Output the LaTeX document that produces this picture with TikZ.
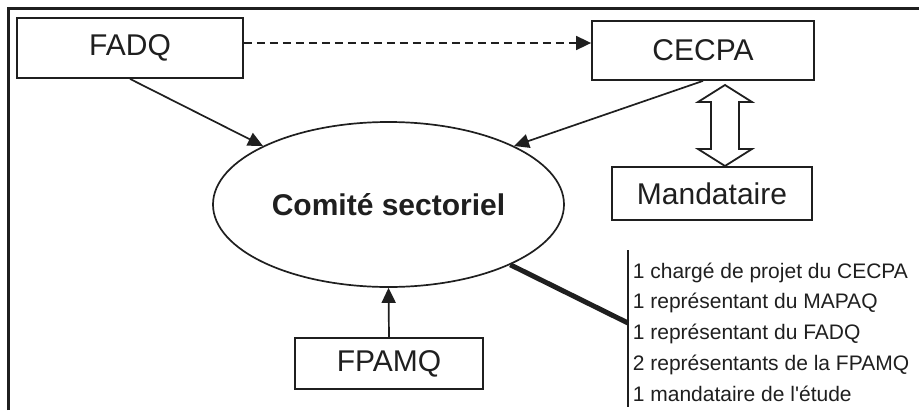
\documentclass[tikz,border=0pt]{standalone}
\usepackage{fontspec}
\setmainfont{Liberation Sans}[Ligatures=TeXOff]
\usetikzlibrary{arrows.meta}
\usetikzlibrary{shapes.geometric}

\begin{document}
\begin{tikzpicture}
	[x=1pt, y=-1pt,
	box/.style={draw, line width=1.8pt, inner sep=0pt, font=\fontsize{30}{36}\selectfont},
	>={Triangle[length=15pt, width=14pt]},
	line width=1.7pt, color={black!88}]
	
	\useasboundingbox (0,0) rectangle (919,410);
	
	% frame
	\draw [line width=3pt] (8,410) -- (8,8) -- (919,8);
	
	% nodes
	\node [box, minimum width=226pt, minimum height=60pt] (fadq) at (130,48) {FADQ};
	\node [box, minimum width=222pt, minimum height=59pt] (cecpa) at (703,50.5) {CECPA};
	\node [box, minimum width=200pt, minimum height=53pt] (mandataire) at (712,193.5) {Mandataire};
	\node [box, minimum width=188pt, minimum height=51pt] (fpamq) at (389,363.5) {FPAMQ};
	\node [draw, ellipse, minimum width=351pt, minimum height=165pt, inner sep=0pt,
		font=\fontsize{30}{36}\selectfont\bfseries] (comite) at (388.5,204.5) {Comité sectoriel};
	\node [anchor=west, align=left, inner sep=0pt, font=\fontsize{21}{30.8}\selectfont] (membres) at (632,332)
		{1 chargé de projet du CECPA\\ 1 représentant du MAPAQ\\ 1 représentant du FADQ\\
		 2 représentants de la FPAMQ\\ 1 mandataire de l'étude};
	\coordinate (bartop) at (628,250);
	\coordinate (barbot) at (628,407);
	\coordinate (barjoin) at (628,323);
	
	% straight arrows
	\draw [->, dash pattern=on 8pt off 5pt] ([yshift=5pt]fadq.east) -- ([yshift=5pt]fadq.east -| cecpa.west);
	\draw [->] (fadq.south) -- (comite.155);
	\draw [->] (cecpa.south) -- (comite.25);
	\draw [->] (fpamq.north) -- (comite.south);
	
	% double arrow
	\coordinate (dtop) at (725,85);
	\coordinate (dbot) at (725,166);
	\draw [fill=white, line width=1.8pt] (dtop) -- ++(27,17) -- ++(-13,0) -- (739,149) -- ++(13,0) -- (dbot)
		-- ++(-27,-17) -- ++(13,0) -- (711,102) -- ++(-13,0) -- cycle;
	
	% members
	\draw [line width=2.6pt] (bartop) -- (barbot);
	\draw [line width=5pt] (comite) -- (barjoin);
\end{tikzpicture}
\end{document}
